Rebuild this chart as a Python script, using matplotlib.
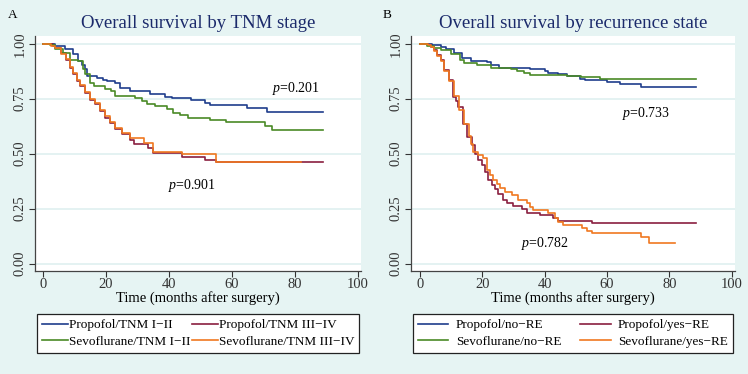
import matplotlib
matplotlib.use("Agg")
import matplotlib.pyplot as plt

plt.rcParams['font.family'] = ['Liberation Serif', 'DejaVu Serif']
plt.rcParams['mathtext.fontset'] = 'custom'
plt.rcParams['mathtext.it'] = 'Liberation Serif:italic'
plt.rcParams['mathtext.rm'] = 'Liberation Serif'

# Panel A: survival by TNM stage
a_labels = ['Propofol/TNM I\u2212II', 'Propofol/TNM III\u2212IV',
            'Sevoflurane/TNM I\u2212II', 'Sevoflurane/TNM III\u2212IV']
a_prop12_t = [0, 3.7, 6.9, 9.5, 11.1, 12.2, 13.3, 13.8, 17, 19.1, 20.2, 22.8, 24.4, 27.6,
              34, 38.7, 41, 47, 51.4, 53, 64.7, 71, 89]
a_prop12_s = [1.0, 0.99, 0.974, 0.951, 0.92, 0.905, 0.883, 0.852, 0.845, 0.837, 0.83, 0.822,
              0.80, 0.784, 0.769, 0.758, 0.751, 0.742, 0.731, 0.72, 0.708, 0.689, 0.689]
a_prop34_t = [0, 3, 3.7, 5.8, 7.4, 8.5, 9.5, 10.6, 11.7, 13.3, 14.9, 16.4, 18, 19.6, 21.2,
              22.8, 25, 27.6, 29, 33.4, 35, 44, 51.4, 55, 89]
a_prop34_s = [1.0, 0.99, 0.98, 0.958, 0.928, 0.89, 0.86, 0.83, 0.807, 0.776, 0.746, 0.724,
              0.693, 0.663, 0.64, 0.61, 0.587, 0.56, 0.542, 0.526, 0.504, 0.485, 0.47, 0.461, 0.461]
a_sevo12_t = [0, 2.1, 3.7, 6.4, 8.5, 11.1, 12.7, 13.3, 14.9, 16, 19.6, 21.7, 22.8, 29.2, 31.3,
              32.9, 35.5, 39.2, 41.4, 43.5, 46, 53, 58, 70.5, 72.6, 89]
a_sevo12_s = [1.0, 0.995, 0.974, 0.958, 0.928, 0.92, 0.883, 0.86, 0.822, 0.807, 0.796, 0.784,
              0.761, 0.754, 0.739, 0.724, 0.716, 0.703, 0.686, 0.674, 0.663, 0.652, 0.643,
              0.625, 0.607, 0.607]
a_sevo34_t = [0, 2.5, 3.7, 5.8, 7.4, 8.5, 9.5, 10.6, 11.7, 13.3, 14.9, 16.4, 18, 19.6, 21.2,
              22.8, 25, 27.6, 32, 35, 44, 55, 82]
a_sevo34_s = [1.0, 0.99, 0.98, 0.955, 0.93, 0.895, 0.865, 0.835, 0.81, 0.78, 0.75, 0.728,
              0.698, 0.67, 0.645, 0.618, 0.595, 0.572, 0.549, 0.508, 0.498, 0.463, 0.463]

# Panel B: survival by recurrence state
b_labels = ['Propofol/no\u2212RE', 'Propofol/yes\u2212RE',
            'Sevoflurane/no\u2212RE', 'Sevoflurane/yes\u2212RE']
b_propno_t = [0, 2.5, 4, 6.7, 8.3, 11, 13.7, 16.3, 21.7, 22.8, 25.4, 35.4, 40.2, 41.2, 44.4,
              47.1, 50.3, 51.4, 53, 60, 64.2, 70.8, 88.5]
b_propno_s = [1.0, 0.997, 0.993, 0.985, 0.975, 0.958, 0.933, 0.922, 0.917, 0.902, 0.89,
              0.883, 0.875, 0.867, 0.86, 0.855, 0.852, 0.84, 0.833, 0.825, 0.817, 0.804, 0.804]
b_propyes_t = [0, 2.5, 3.5, 4.6, 5.5, 6.7, 7.8, 9.4, 10.8, 11.5, 12.4, 14, 15, 16.7, 17.7,
               18.8, 19.9, 20.9, 22, 23, 24.1, 25.2, 26.8, 27.9, 30, 32.7, 34.3, 38.5, 42.8,
               44.4, 55.1, 88.5]
b_propyes_s = [1.0, 0.995, 0.985, 0.97, 0.95, 0.925, 0.88, 0.834, 0.758, 0.74, 0.713, 0.637,
               0.576, 0.539, 0.50, 0.47, 0.448, 0.417, 0.38, 0.357, 0.337, 0.316, 0.289, 0.274,
               0.261, 0.246, 0.231, 0.22, 0.205, 0.195, 0.183, 0.183]
b_sevono_t = [0, 2.4, 4.5, 6.7, 9.9, 13, 14.2, 18.5, 22.8, 29.2, 31.2, 33.3, 35.4, 47.1,
              51.6, 57.8, 88.5]
b_sevono_s = [1.0, 0.99, 0.98, 0.97, 0.955, 0.925, 0.913, 0.902, 0.89, 0.886, 0.875, 0.867,
              0.857, 0.852, 0.848, 0.84, 0.84]
b_sevoyes_t = [0, 2.5, 3.5, 4.6, 5.5, 6.7, 7.8, 9.4, 11, 12.6, 14.2, 15.8, 16.5, 17.2, 18.8,
               20.4, 21.5, 22.5, 23.6, 24.7, 25.7, 27.3, 29.5, 31.6, 34.3, 35.4, 36.4, 41.2,
               43.4, 44.4, 46, 51.9, 53.5, 55.1, 71, 73.4, 81.7]
b_sevoyes_s = [1.0, 0.995, 0.985, 0.965, 0.945, 0.92, 0.875, 0.83, 0.76, 0.70, 0.635, 0.58,
               0.545, 0.508, 0.493, 0.478, 0.425, 0.402, 0.38, 0.361, 0.342, 0.326, 0.311,
               0.289, 0.276, 0.258, 0.243, 0.231, 0.205, 0.19, 0.175, 0.16, 0.149, 0.137,
               0.119, 0.095, 0.095]

colors = ['#1f3d8c', '#8a1f40', '#4a8a26', '#f07820']
bg = '#e6f4f3'
grid_c = '#dcefef'
title_c = '#1b2a6b'


def style_axes(ax, xlim):
    ax.set_facecolor('white')
    ax.set_xlim(xlim)
    ax.set_ylim(-0.034, 1.035)
    ax.set_xticks([0, 20, 40, 60, 80, 100])
    ax.set_yticks([0, 0.25, 0.5, 0.75, 1.0])
    ax.set_yticklabels(['0.00', '0.25', '0.50', '0.75', '1.00'], rotation=90, va='center')
    ax.tick_params(labelsize=10.5, colors='#333333', length=4, width=0.8)
    ax.tick_params(axis='y', pad=2)
    ax.tick_params(axis='x', pad=1)
    for yv in [0, 0.25, 0.5, 0.75, 1.0]:
        ax.axhline(yv, color=grid_c, lw=1.1, zorder=0)
    for s in ['top', 'right']:
        ax.spines[s].set_visible(False)
    for s in ['left', 'bottom']:
        ax.spines[s].set_color('#444444')
        ax.spines[s].set_linewidth(0.9)
    ax.set_xlabel('Time (months after surgery)', fontsize=10.5, labelpad=0)


fig = plt.figure(figsize=(7.48, 3.74), dpi=100)
fig.patch.set_facecolor(bg)

axA = fig.add_axes([0.0468, 0.2754, 0.4358, 0.6283])
axB = fig.add_axes([0.549, 0.2754, 0.4336, 0.6283])

style_axes(axA, (-2.6, 101))
style_axes(axB, (-2.9, 101))

linesA = []
for t, s, c in [(a_prop12_t, a_prop12_s, colors[0]), (a_prop34_t, a_prop34_s, colors[1]),
                (a_sevo12_t, a_sevo12_s, colors[2]), (a_sevo34_t, a_sevo34_s, colors[3])]:
    ln, = axA.step(t, s, where='post', color=c, lw=1.2)
    linesA.append(ln)

linesB = []
for t, s, c in [(b_propno_t, b_propno_s, colors[0]), (b_propyes_t, b_propyes_s, colors[1]),
                (b_sevono_t, b_sevono_s, colors[2]), (b_sevoyes_t, b_sevoyes_s, colors[3])]:
    ln, = axB.step(t, s, where='post', color=c, lw=1.2)
    linesB.append(ln)

axA.set_title('Overall survival by TNM stage', fontsize=13.5, color=title_c, pad=6)
axB.set_title('Overall survival by recurrence state', fontsize=13.5, color=title_c, pad=6)

axA.text(80.4, 0.798, r'$p$=0.201', fontsize=10, ha='center', va='center')
axA.text(47.3, 0.357, r'$p$=0.901', fontsize=10, ha='center', va='center')
axB.text(72.4, 0.683, r'$p$=0.733', fontsize=10, ha='center', va='center')
axB.text(40.3, 0.092, r'$p$=0.782', fontsize=10, ha='center', va='center')

fig.text(0.011, 0.975, 'A', fontsize=9.5, va='top')
fig.text(0.512, 0.975, 'B', fontsize=9.5, va='top')

order = [0, 2, 1, 3]
legA = fig.legend([linesA[i] for i in order], [a_labels[i] for i in order],
                  loc='upper center', bbox_to_anchor=(0.2647, 0.1604),
                  ncol=2, fontsize=9.5, handlelength=2.0,
                  handletextpad=0.05, columnspacing=0.1, labelspacing=0.33,
                  borderaxespad=0, borderpad=0.38, fancybox=False, framealpha=1)
legA.get_frame().set_edgecolor('#222222')
legA.get_frame().set_linewidth(0.9)

legB = fig.legend([linesB[i] for i in order], [b_labels[i] for i in order],
                  loc='upper center', bbox_to_anchor=(0.766, 0.1604),
                  ncol=2, fontsize=9.5, handlelength=2.3,
                  handletextpad=0.55, columnspacing=1.45, labelspacing=0.33,
                  borderaxespad=0, borderpad=0.38, fancybox=False, framealpha=1)
legB.get_frame().set_edgecolor('#222222')
legB.get_frame().set_linewidth(0.9)

fig.savefig('out.png', dpi=100, facecolor=bg)
